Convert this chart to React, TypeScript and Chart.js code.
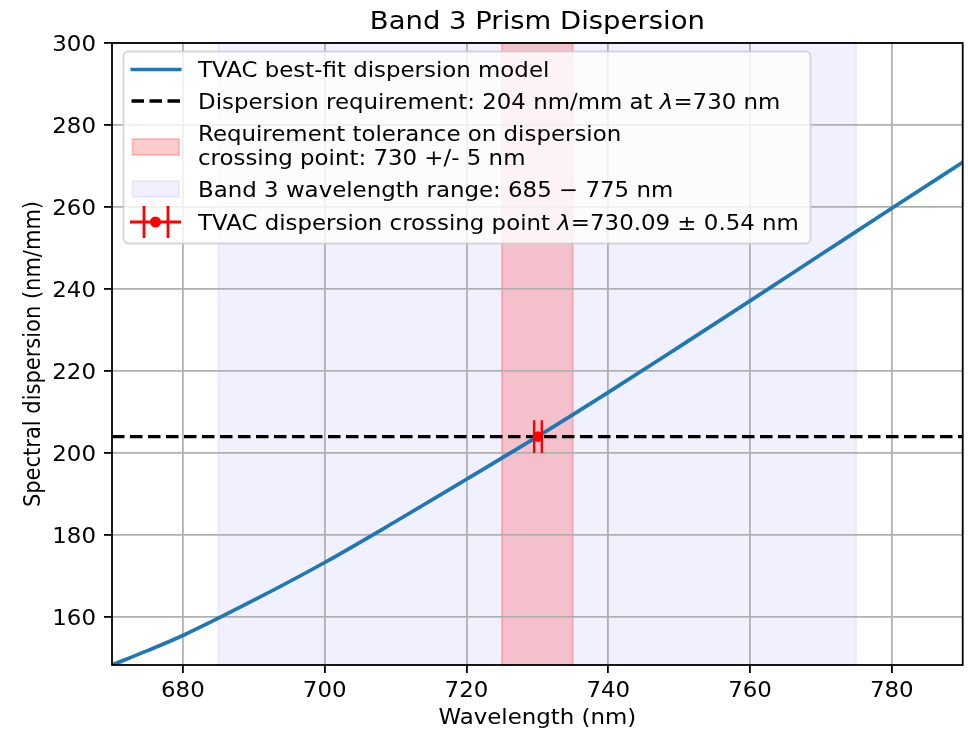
import React, { useEffect, useRef } from "react";
import { Chart, registerables } from "chart.js";

Chart.register(...registerables);

// ---------- data ----------
const wavelengthNm = [670, 675, 680, 690, 700, 710, 720, 730, 740, 750, 760, 770, 780, 790];
const dispersionNmPerMm = [148.3, 151.8, 155.5, 164.1, 173.3, 183.3, 193.6, 204.0, 214.8, 225.9, 237.1, 248.4, 259.7, 270.9];
const xTickValues = [680, 700, 720, 740, 760, 780];
const yTickValues = [160, 180, 200, 220, 240, 260, 280, 300];
const xLimits = [670, 790];
const yLimits = [148.3, 300];
const requirementDispersion = [204];
const toleranceBand = [725, 735];
const wavelengthBand = [685, 775];
const crossingWavelength = [730.09];
const crossingDispersion = [204];
const crossingError = [0.54];

const TITLE = "Band 3 Prism Dispersion";
const X_LABEL = "Wavelength (nm)";
const Y_LABEL = "Spectral dispersion (nm/mm)";

// ---------- styles ----------
const FONT = '"DejaVu Sans", sans-serif';
const SX = 1.09;
const FS = 21;
const BLUE = "#1f77b4";
const RED = "#ff0000";
const LAVENDER = "rgba(0,0,255,0.06)";
const PINK = "rgba(255,0,0,0.2)";

type Run = { t: string; i?: boolean };

function fontOf(size: number, italic?: boolean) {
  return `${italic ? "italic " : ""}${size}px ${FONT}`;
}

function drawRuns(ctx: CanvasRenderingContext2D, runs: Run[], x: number, y: number, size: number, align: "left" | "center" | "right" = "left") {
  let total = 0;
  const widths = runs.map((r) => {
    ctx.font = fontOf(size, r.i);
    const w = ctx.measureText(r.t).width * SX;
    total += w;
    return w;
  });
  let cx = align === "left" ? x : align === "center" ? x - total / 2 : x - total;
  runs.forEach((r, k) => {
    ctx.save();
    ctx.font = fontOf(size, r.i);
    ctx.fillStyle = "#000";
    ctx.textAlign = "left";
    ctx.textBaseline = "alphabetic";
    ctx.translate(cx, y);
    ctx.scale(SX, 1);
    ctx.fillText(r.t, 0, 0);
    ctx.restore();
    cx += widths[k];
  });
}

const spansPlugin = {
  id: "spans",
  beforeDraw(chart: any) {
    const { ctx, chartArea, scales } = chart;
    const x = scales.x;
    const top = chartArea.top;
    const h = chartArea.bottom - chartArea.top;
    ctx.save();
    const b0 = x.getPixelForValue(wavelengthBand[0]);
    const b1 = x.getPixelForValue(wavelengthBand[1]);
    ctx.fillStyle = LAVENDER;
    ctx.fillRect(b0, top, b1 - b0, h);
    ctx.strokeStyle = LAVENDER;
    ctx.lineWidth = 2;
    ctx.strokeRect(b0, top, b1 - b0, h);
    const r0 = x.getPixelForValue(toleranceBand[0]);
    const r1 = x.getPixelForValue(toleranceBand[1]);
    ctx.fillStyle = PINK;
    ctx.fillRect(r0, top, r1 - r0, h);
    ctx.strokeStyle = PINK;
    ctx.lineWidth = 2;
    ctx.strokeRect(r0, top, r1 - r0, h);
    ctx.restore();
  },
};

const errorBarPlugin = {
  id: "errbar",
  beforeDatasetDraw(chart: any, args: any) {
    if (args.index !== 2) return;
    const { ctx, scales } = chart;
    ctx.save();
    ctx.strokeStyle = RED;
    ctx.lineWidth = 2.4;
    crossingWavelength.forEach((w, i) => {
      const py = scales.y.getPixelForValue(crossingDispersion[i]);
      const xa = scales.x.getPixelForValue(w - crossingError[i]);
      const xb = scales.x.getPixelForValue(w + crossingError[i]);
      ctx.beginPath();
      ctx.moveTo(xa, py);
      ctx.lineTo(xb, py);
      ctx.moveTo(xa, py - 16.3);
      ctx.lineTo(xa, py + 16.3);
      ctx.moveTo(xb, py - 16.3);
      ctx.lineTo(xb, py + 16.3);
      ctx.stroke();
    });
    ctx.restore();
  },
};

const framePlugin = {
  id: "frame",
  afterDatasetsDraw(chart: any) {
    const { ctx, chartArea } = chart;
    ctx.save();
    ctx.strokeStyle = "#000";
    ctx.lineWidth = 1.8;
    ctx.strokeRect(chartArea.left, chartArea.top, chartArea.right - chartArea.left, chartArea.bottom - chartArea.top);
    ctx.restore();
  },
};

const textPlugin = {
  id: "texts",
  afterDraw(chart: any) {
    const { ctx, chartArea, scales } = chart;
    const cxm = (chartArea.left + chartArea.right) / 2;
    const cym = (chartArea.top + chartArea.bottom) / 2;
    drawRuns(ctx, [{ t: TITLE }], cxm, 29, 25.2, "center");
    scales.x.ticks.forEach((t: any) => {
      const px = scales.x.getPixelForValue(t.value);
      drawRuns(ctx, [{ t: String(t.value) }], px, 697, FS, "center");
    });
    scales.y.ticks.forEach((t: any) => {
      const py = scales.y.getPixelForValue(t.value);
      drawRuns(ctx, [{ t: String(t.value) }], 96, py + 7.7, FS, "right");
    });
    drawRuns(ctx, [{ t: X_LABEL }], cxm, 724, FS, "center");
    ctx.save();
    ctx.font = fontOf(FS);
    ctx.fillStyle = "#000";
    ctx.textAlign = "center";
    ctx.textBaseline = "alphabetic";
    ctx.translate(39.5, cym);
    ctx.scale(SX, 1);
    ctx.rotate(-Math.PI / 2);
    ctx.fillText(Y_LABEL, 0, 0);
    ctx.restore();

    // legend
    ctx.save();
    ctx.beginPath();
    (ctx as any).roundRect(123.5, 51.5, 687, 192, 5);
    ctx.fillStyle = "rgba(255,255,255,0.8)";
    ctx.fill();
    ctx.strokeStyle = "rgba(204,204,204,0.8)";
    ctx.lineWidth = 1.8;
    ctx.stroke();

    ctx.strokeStyle = BLUE;
    ctx.lineWidth = 3.7;
    ctx.beginPath();
    ctx.moveTo(130.5, 69.5);
    ctx.lineTo(181.5, 69.5);
    ctx.stroke();

    ctx.strokeStyle = "#000";
    ctx.lineWidth = 3.4;
    ctx.setLineDash([12.5, 5.5]);
    ctx.beginPath();
    ctx.moveTo(131.5, 101);
    ctx.lineTo(181, 101);
    ctx.stroke();
    ctx.setLineDash([]);

    ctx.fillStyle = PINK;
    ctx.fillRect(132.5, 139, 46.5, 16);
    ctx.strokeStyle = PINK;
    ctx.lineWidth = 2;
    ctx.strokeRect(132.5, 139, 46.5, 16);

    ctx.fillStyle = LAVENDER;
    ctx.fillRect(132.5, 181, 46.5, 16);
    ctx.strokeStyle = LAVENDER;
    ctx.strokeRect(132.5, 181, 46.5, 16);

    ctx.strokeStyle = RED;
    ctx.lineWidth = 2.8;
    ctx.beginPath();
    ctx.moveTo(130, 222);
    ctx.lineTo(181, 222);
    ctx.moveTo(144, 206);
    ctx.lineTo(144, 238);
    ctx.moveTo(168, 206);
    ctx.lineTo(168, 238);
    ctx.stroke();
    ctx.fillStyle = RED;
    ctx.beginPath();
    ctx.arc(155.5, 222, 5.5, 0, Math.PI * 2);
    ctx.fill();
    ctx.restore();

    const tx = 198;
    drawRuns(ctx, [{ t: "TVAC best-fit dispersion model" }], tx, 77, FS);
    drawRuns(ctx, [{ t: "Dispersion requirement: 204 nm/mm at " }, { t: "λ", i: true }, { t: "=730 nm" }], tx, 108.5, FS);
    drawRuns(ctx, [{ t: "Requirement tolerance on dispersion" }], tx, 141, FS);
    drawRuns(ctx, [{ t: "crossing point: 730 +/- 5 nm" }], tx, 165, FS);
    drawRuns(ctx, [{ t: "Band 3 wavelength range: 685 − 775 nm" }], tx, 196.5, FS);
    drawRuns(ctx, [{ t: "TVAC dispersion crossing point " }, { t: "λ", i: true }, { t: "=730.09 ± 0.54 nm" }], tx, 229.5, FS);
  },
};

export default function App() {
  const canvasRef = useRef<HTMLCanvasElement | null>(null);

  useEffect(() => {
    const canvas = canvasRef.current;
    if (!canvas) return;
    const modelData = wavelengthNm.map((w, i) => ({ x: w, y: dispersionNmPerMm[i] }));
    const reqData = [
      { x: xLimits[0], y: requirementDispersion[0] },
      { x: xLimits[1], y: requirementDispersion[0] },
    ];
    const pointData = crossingWavelength.map((w, i) => ({ x: w, y: crossingDispersion[i] }));

    const gridCommon = {
      color: "#b0b0b0",
      lineWidth: 1.8,
      drawTicks: true,
      tickLength: 8,
      tickColor: "#000",
      tickWidth: 1.8,
    };

    const chart = new Chart(canvas, {
      type: "line",
      data: {
        datasets: [
          {
            label: "TVAC best-fit dispersion model",
            data: modelData,
            borderColor: BLUE,
            borderWidth: 3.7,
            pointRadius: 0,
            cubicInterpolationMode: "monotone",
            fill: false,
            order: 1,
          },
          {
            label: "Dispersion requirement",
            data: reqData,
            borderColor: "#000",
            borderWidth: 3.4,
            borderDash: [12.5, 5.5],
            pointRadius: 0,
            fill: false,
            order: 2,
          },
          {
            label: "TVAC dispersion crossing point",
            data: pointData,
            showLine: false,
            pointRadius: 5.3,
            pointBorderWidth: 0,
            pointBackgroundColor: RED,
            borderColor: RED,
            order: 0,
          },
        ],
      },
      options: {
        responsive: false,
        devicePixelRatio: 1,
        animation: false,
        events: [],
        layout: { padding: { top: 43, right: 5, left: 0, bottom: 0 } },
        plugins: {
          legend: { display: false },
          title: { display: false },
          tooltip: { enabled: false },
        },
        scales: {
          x: {
            type: "linear",
            min: xLimits[0],
            max: xLimits[1],
            grid: gridCommon,
            border: { display: false },
            ticks: { display: false },
            afterBuildTicks: (scale: any) => {
              scale.ticks = xTickValues.map((v) => ({ value: v }));
            },
            afterFit: (scale: any) => {
              scale.height = 65;
            },
          },
          y: {
            type: "linear",
            min: yLimits[0],
            max: yLimits[1],
            grid: gridCommon,
            border: { display: false },
            ticks: { display: false },
            afterBuildTicks: (scale: any) => {
              scale.ticks = yTickValues.map((v) => ({ value: v }));
            },
            afterFit: (scale: any) => {
              scale.width = 112;
            },
          },
        },
      } as any,
      plugins: [spansPlugin, errorBarPlugin, framePlugin, textPlugin],
    });

    return () => {
      chart.destroy();
    };
  }, []);

  return (
    <div style={{ position: "fixed", left: 0, top: 0, width: 968, height: 730, background: "#fff" }}>
      <canvas ref={canvasRef} width={968} height={730} style={{ display: "block", width: 968, height: 730 }} />
    </div>
  );
}
